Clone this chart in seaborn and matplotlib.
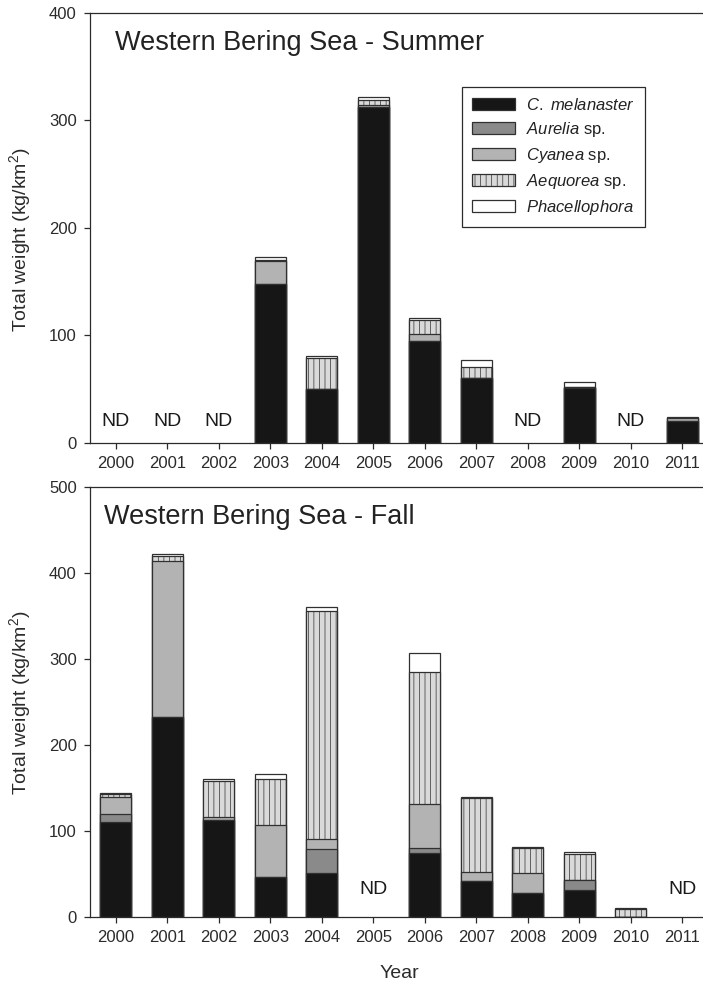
import numpy as np
import pandas as pd
import matplotlib
matplotlib.use("Agg")
import matplotlib.pyplot as plt
import seaborn as sns
from matplotlib.patches import Patch

# ---------------------------------------------------------------- data
years = [str(y) for y in range(2000, 2012)]
nan = np.nan

# Summer survey, kg/km^2 (NaN = no data)
summer_c_melanaster = [nan, nan, nan, 148, 50, 313, 95, 60, nan, 51, nan, 20]
summer_aurelia      = [nan, nan, nan,   0,  0,   0,  0,  0, nan,  0, nan,  0]
summer_cyanea       = [nan, nan, nan,  21,  0,   1,  6,  0, nan,  1, nan,  3]
summer_aequorea     = [nan, nan, nan,   1, 29,   5, 13, 11, nan,  0, nan,  0]
summer_phacellophora= [nan, nan, nan,   3,  2,   3,  2,  6, nan,  5, nan,  1]

# Fall survey, kg/km^2 (NaN = no data)
fall_c_melanaster   = [110, 233, 113, 46,  51, nan,  74, 42, 28, 31, 0, nan]
fall_aurelia        = [ 10,   0,   0,  0,  28, nan,   6,  0,  0, 12, 0, nan]
fall_cyanea         = [ 20, 181,   3, 61,  12, nan,  52, 10, 23,  0, 0, nan]
fall_aequorea       = [  3,   6,  42, 54, 265, nan, 153, 86, 29, 30, 9, nan]
fall_phacellophora  = [  1,   2,   3,  5,   5, nan,  22,  2,  1,  3, 1, nan]

legend_labels = [r"$\it{C.\ melanaster}$", r"$\it{Aurelia}$ sp.",
                 r"$\it{Cyanea}$ sp.", r"$\it{Aequorea}$ sp.",
                 r"$\it{Phacellophora}$"]

# ---------------------------------------------------------------- style
sns.set_theme(style="ticks")
plt.rcParams["font.family"] = ["Liberation Sans", "DejaVu Sans"]
plt.rcParams["mathtext.fontset"] = "custom"
plt.rcParams["mathtext.rm"] = "Liberation Sans"
plt.rcParams["mathtext.it"] = "Liberation Sans:italic"
plt.rcParams["hatch.linewidth"] = 0.5

INK = "#2b2b2b"
EDGE = "#303030"
colors = ["#161616", "#8a8a8a", "#b3b3b3", "#d9d9d9", "#ffffff"]
hatches = [None, None, None, "|||", None]

fig = plt.figure(figsize=(7.03, 9.85), dpi=100)
ax_top = fig.add_axes([0.128, 0.5503, 0.879, 0.4365])
ax_bot = fig.add_axes([0.128, 0.0690, 0.879, 0.4365])


def draw_panel(ax, layers, ymax, title, title_x, ylabel_y, nd_y):
    stack = np.array(layers, dtype=float)
    cum = np.cumsum(stack, axis=0)
    # tallest cumulative layer first, so each lower layer sits on top of it
    for k in reversed(range(len(layers))):
        df = pd.DataFrame({"year": years, "weight": cum[k]})
        sns.barplot(data=df, x="year", y="weight", order=years,
                    color=colors[k], saturation=1, width=0.6,
                    edgecolor=EDGE, linewidth=0.9, hatch=hatches[k],
                    errorbar=None, ax=ax)
    ax.set_xlim(-0.5, 11.5)
    ax.set_ylim(0, ymax)
    ax.set_yticks(np.arange(0, ymax + 1, 100))
    ax.set_xlabel("")
    ax.set_ylabel("Total weight (kg/km$^2$)", fontsize=14, color=INK)
    ax.yaxis.set_label_coords(-0.092, ylabel_y)
    ax.tick_params(axis="both", direction="out", length=4.5, width=0.9,
                   color=INK, labelsize=12, labelcolor=INK, pad=5)
    for side in ("left", "bottom", "top", "right"):
        ax.spines[side].set_visible(True)
        ax.spines[side].set_color(INK)
        ax.spines[side].set_linewidth(0.9)
    ax.text(title_x, 0.93, title, transform=ax.transAxes, fontsize=19.5,
            color="#222222", ha="left", va="center")
    # "ND" marks the years without a survey
    total = cum[-1]
    for i, t in enumerate(total):
        if np.isnan(t):
            ax.text(i, nd_y, "ND", transform=ax.get_xaxis_transform(),
                    fontsize=14, color="#1a1a1a", ha="center", va="center")


draw_panel(ax_top,
           [summer_c_melanaster, summer_aurelia, summer_cyanea,
            summer_aequorea, summer_phacellophora],
           400, "Western Bering Sea - Summer", 0.04, 0.472, 0.049)
draw_panel(ax_bot,
           [fall_c_melanaster, fall_aurelia, fall_cyanea,
            fall_aequorea, fall_phacellophora],
           500, "Western Bering Sea - Fall", 0.023, 0.498, 0.065)

ax_bot.set_xlabel("Year", fontsize=14, color=INK, labelpad=14)

handles = [Patch(facecolor=c, edgecolor=EDGE, hatch=h, linewidth=0.9, label=l)
           for c, h, l in zip(colors, hatches, legend_labels)]
leg = ax_top.legend(handles=handles, loc="upper left",
                    bbox_to_anchor=(0.602, 0.828), fontsize=12,
                    frameon=True, fancybox=False, framealpha=1,
                    edgecolor=INK, handlelength=2.6, handleheight=0.7,
                    handletextpad=0.65, labelspacing=0.42, borderpad=0.6,
                    borderaxespad=0)
leg.get_frame().set_linewidth(0.9)
for t in leg.get_texts():
    t.set_color("#222222")

fig.savefig("out.png", dpi=100)
